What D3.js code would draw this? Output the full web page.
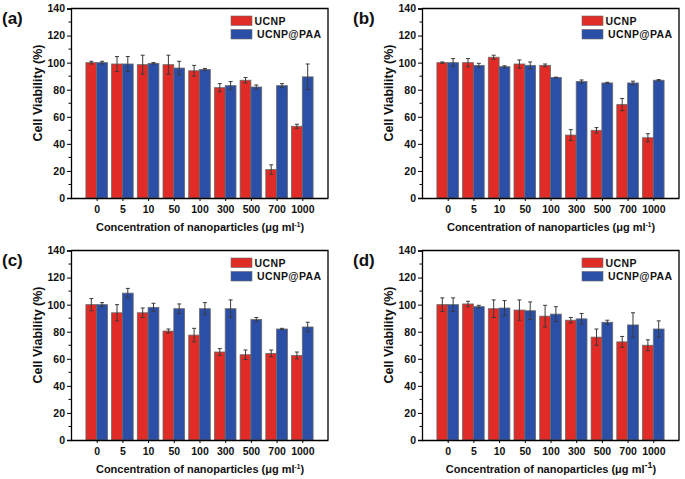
<!DOCTYPE html>
<html>
<head>
<meta charset="utf-8">
<script src="https://cdn.jsdelivr.net/npm/d3@7"></script>
<style>
  body { margin: 0; background: #fff; }
  text { font-family: "Liberation Sans", Arial, sans-serif; font-weight: bold; }
</style>
</head>
<body>
<div class="chart"></div>
<script>
const concentrations = ["0", "5", "10", "50", "100", "300", "500", "700", "1000"];
const yTicks = [0, 20, 40, 60, 80, 100, 120, 140];
const seriesNames = ["UCNP", "UCNP@PAA"];
const panelLabels = ["(a)", "(b)", "(c)", "(d)"];

// panel (a)
const ucnpA = [100, 99, 98.5, 98.5, 94, 81.5, 87, 21, 53];
const ucnpErrA = [1, 5.5, 7, 7, 4, 3, 2, 3.5, 1.5];
const paaA = [100, 99, 99.5, 96, 95, 83, 82, 83, 89.5];
const paaErrA = [1, 5.5, 0.5, 5, 0.7, 3, 1.5, 1.5, 9.5];

// panel (b)
const ucnpB = [100, 100, 104, 99, 98, 46.5, 50, 69, 44.5];
const ucnpErrB = [0.5, 3, 1.5, 3, 1, 4, 2, 4.5, 3];
const paaB = [100, 98, 97, 98, 89, 86, 85, 85, 87];
const paaErrB = [3, 1.5, 0.7, 2.5, 0.3, 1.2, 0.5, 1.3, 0.5];

// panel (c)
const ucnpC = [100, 94, 94, 80.5, 77.5, 65, 63, 64, 62.5];
const ucnpErrC = [4.5, 6, 3.5, 1.5, 5, 2.5, 3.5, 2.5, 2.5];
const paaC = [100, 108.5, 98, 97, 97, 97, 89, 82, 83.5];
const paaErrC = [1.5, 3.5, 3, 3.5, 4.5, 6.5, 1.5, 0.5, 3.5];

// panel (d)
const ucnpD = [100, 100.5, 97, 96, 91.5, 88.5, 76, 72.5, 70];
const ucnpErrD = [5, 2, 6.5, 7.5, 8, 2, 6, 4, 4];
const paaD = [100, 98.5, 97.5, 95.5, 93, 89.5, 87, 85, 82];
const paaErrD = [5, 1, 5.5, 6.5, 5.5, 4, 1.5, 9, 6];

const colors = ["#e02b27", "#2b4fa7"];

const svg = d3.select(".chart").append("svg")
  .attr("width", 685)
  .attr("height", 479);

const panels = [
  { x: 0, y: 0, data: [ucnpA, paaA], errs: [ucnpErrA, paaErrA], bigSup: false },
  { x: 351, y: 0, data: [ucnpB, paaB], errs: [ucnpErrB, paaErrB], bigSup: false },
  { x: 0, y: 242, data: [ucnpC, paaC], errs: [ucnpErrC, paaErrC], bigSup: false },
  { x: 351, y: 242, data: [ucnpD, paaD], errs: [ucnpErrD, paaErrD], bigSup: true }
];

const plotLeft = 71, plotRight = 328, plotTop = 8.5, plotBottom = 198;

const xScale = d3.scalePoint().domain(concentrations).range([plotLeft, plotRight]).padding(1);
const yScale = d3.scaleLinear().domain([0, 140]).range([plotBottom, plotTop]);
const barW = xScale.step() * 0.42;

panels.forEach((p, pi) => {
  const g = svg.append("g").attr("transform", `translate(${p.x}, ${p.y})`);

  // bars
  p.data.forEach((vals, si) => {
    const off = si === 0 ? -barW : 0;
    g.append("g").selectAll("rect")
      .data(vals)
      .enter()
      .append("rect")
      .attr("x", (d, i) => xScale(concentrations[i]) + off)
      .attr("y", (d) => yScale(d))
      .attr("width", barW)
      .attr("height", (d) => yScale(0) - yScale(d))
      .attr("fill", colors[si])
      .attr("stroke", "#6a6a6a")
      .attr("stroke-width", 0.8);

    // error bars
    const eg = g.append("g").attr("stroke", "#3a3a3a").attr("stroke-width", 1);
    vals.forEach((d, i) => {
      const cx = xScale(concentrations[i]) + off + barW / 2;
      const e = p.errs[si][i];
      const y1 = yScale(d + e), y2 = yScale(d - e);
      eg.append("line").attr("x1", cx).attr("x2", cx).attr("y1", y1).attr("y2", y2);
      eg.append("line").attr("x1", cx - 2).attr("x2", cx + 2).attr("y1", y1).attr("y2", y1);
      eg.append("line").attr("x1", cx - 2).attr("x2", cx + 2).attr("y1", y2).attr("y2", y2);
    });
  });

  // axes
  const yAxis = d3.axisLeft(yScale).tickValues(yTicks).tickSize(4).tickPadding(2);
  const yAxisG = g.append("g").attr("transform", `translate(${plotLeft}, 0)`).call(yAxis);
  yAxisG.selectAll("text").attr("font-size", "10.5px").attr("fill", "#111");
  yAxisG.selectAll(".domain").attr("stroke-width", 1.3);

  // minor y ticks
  g.append("g").selectAll("line")
    .data(d3.range(10, 140, 20))
    .enter()
    .append("line")
    .attr("x1", plotLeft - 2.5)
    .attr("x2", plotLeft)
    .attr("y1", (d) => yScale(d))
    .attr("y2", (d) => yScale(d))
    .attr("stroke", "#000");

  const xAxis = d3.axisBottom(xScale).tickSize(3).tickPadding(5).tickSizeOuter(0);
  const xAxisG = g.append("g").attr("transform", `translate(0, ${plotBottom})`).call(xAxis);
  xAxisG.selectAll("text").attr("font-size", "10.5px").attr("fill", "#111");
  xAxisG.selectAll(".domain").attr("stroke-width", 1.3);

  // frame top and right
  g.append("path")
    .attr("d", `M${plotLeft},${plotTop}H${plotRight}V${plotBottom}`)
    .attr("fill", "none")
    .attr("stroke", "#000")
    .attr("stroke-width", 1.3);

  // legend
  const lg = g.append("g").attr("transform", "translate(231, 16)");
  seriesNames.forEach((name, si) => {
    lg.append("rect")
      .attr("x", 0)
      .attr("y", si * 13.5)
      .attr("width", 21)
      .attr("height", 9.5)
      .attr("fill", colors[si])
      .attr("stroke", "#6a6a6a")
      .attr("stroke-width", 0.6);
    lg.append("text")
      .attr("x", si === 0 ? 23.5 : 26)
      .attr("y", si * 13.5 + 8.5)
      .attr("font-size", "10.5px")
      .attr("letter-spacing", "0.4px")
      .attr("fill", "#111")
      .text(name);
  });

  // axis titles
  g.append("text")
    .attr("transform", `translate(41.5, 93) rotate(-90)`)
    .attr("text-anchor", "middle")
    .attr("font-size", "12.5px")
    .attr("fill", "#111")
    .text("Cell Viability (%)");

  const xt = g.append("text")
    .attr("x", 200)
    .attr("y", 231)
    .attr("text-anchor", "middle")
    .attr("font-size", "11px")
    .attr("fill", "#111");
  xt.append("tspan").text("Concentration of nanoparticles (\u03bcg ml");
  xt.append("tspan")
    .attr("font-size", p.bigSup ? "9px" : "6.5px")
    .attr("dy", p.bigSup ? -5 : -4.5)
    .text("-1");
  xt.append("tspan")
    .attr("dy", p.bigSup ? 5 : 4.5)
    .text(")");

  // panel label
  g.append("text")
    .attr("x", 2)
    .attr("y", 24)
    .attr("font-size", "17px")
    .attr("fill", "#111")
    .text(panelLabels[pi]);
});
</script>
</body>
</html>
